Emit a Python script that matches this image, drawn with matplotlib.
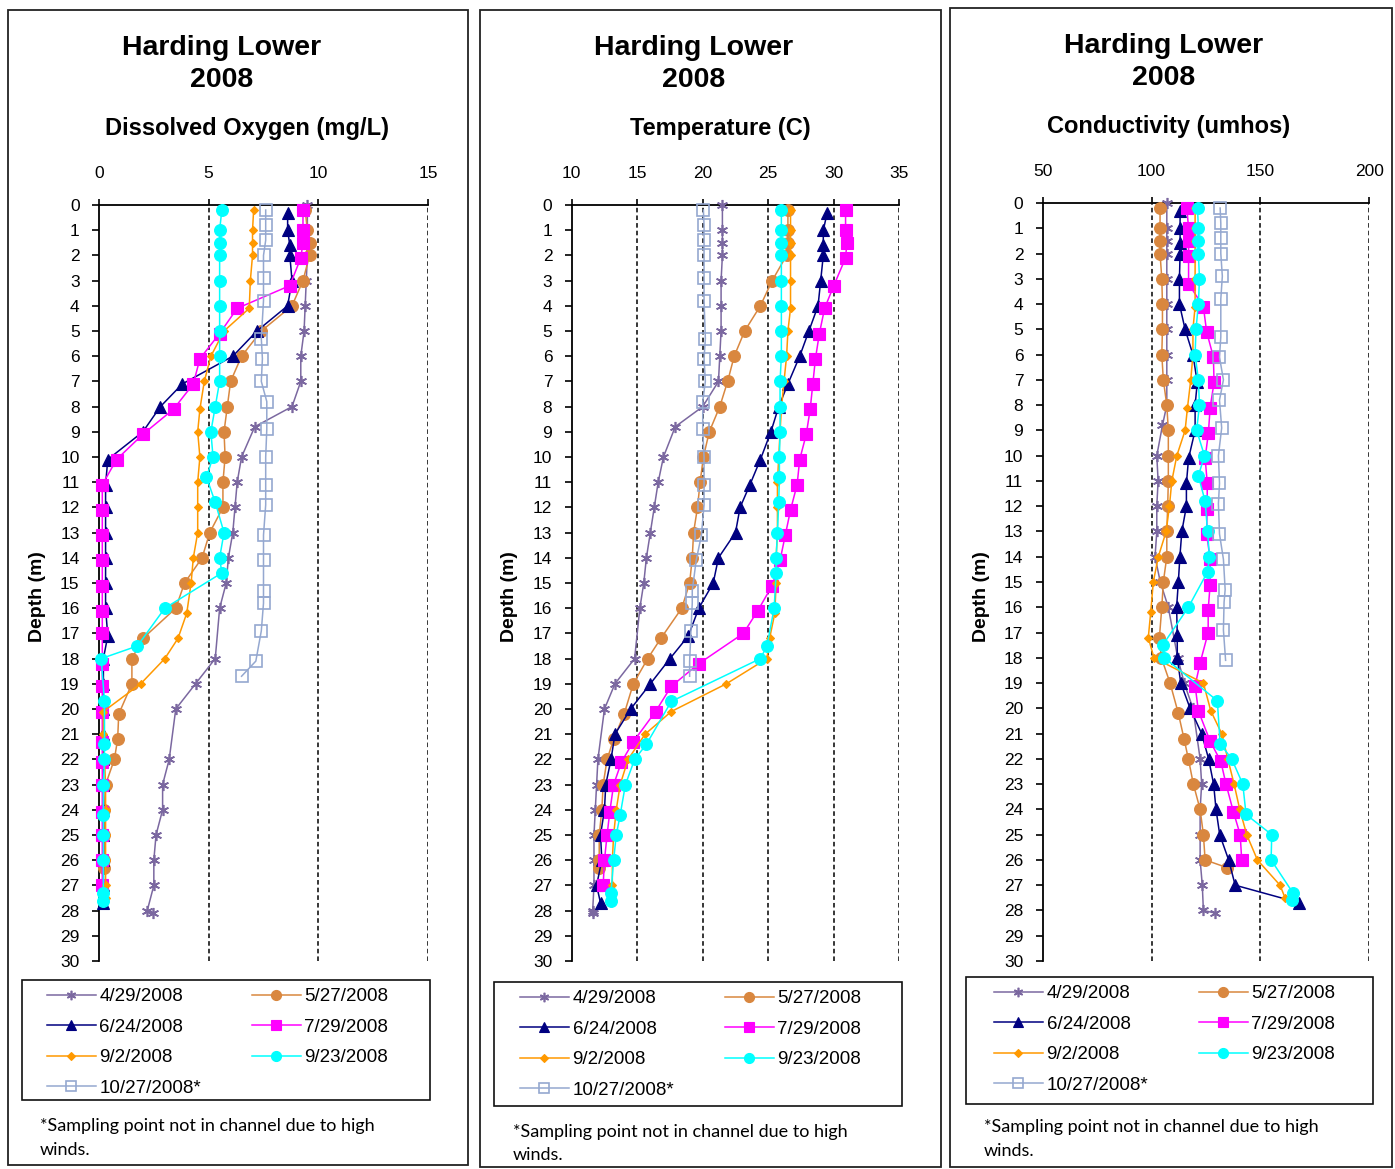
import numpy as np
import matplotlib.pyplot as plt
from matplotlib.patches import Rectangle

nan = np.nan

# sampling dates (legend labels)
dates = ['4/29/2008', '5/27/2008', '6/24/2008', '7/29/2008',
         '9/2/2008', '9/23/2008', '10/27/2008*']

# depths (m) for each sampling date
depth_0429 = [0, 1, 1.5, 2, 3, 4, 5, 6, 7, 8, 8.8, 10, 11, 12, 13, 14, 15, 16, 18, 19,
              20, 22, 23, 24, 25, 26, 27, 28, 28.1]
depth_0527 = [0.2, 1, 1.5, 2, 3, 4, 5, 6, 7, 8, 9, 10, 11, 12, 13, 14, 15, 16, 17.2, 18,
              19, 20.2, 21.2, 22, 23, 24, 25, 26, 26.3]
depth_0624 = [0.3, 1, 1.6, 2, 3, 4, 5, 6, 7.1, 8, 9, 10.1, 11.1, 12, 13, 14, 15, 16, 17.1, 18,
              19, 20, 21, 22, 23, 24, 25, 26, 27, 27.7]
depth_0729 = [0.2, 1, 1.5, 2.1, 3.2, 4.1, 5.1, 6.1, 7.1, 8.1, 9.1, 10.1, 11.1, 12.1, 13.1,
              14.1, 15.1, 16.1, 17, 18.2, 19.1, 20.1, 21.3, 22.1, 23, 24.1, 25, 26, 27]
depth_0902 = [0.2, 1, 1.5, 2, 3, 4.1, 5, 6, 7, 8.1, 9, 10, 11, 12, 13, 14, 15, 16.2, 17.2, 18,
              19, 20.1, 21, 22, 23, 24, 25, 26, 27, 27.5]
depth_0923 = [0.2, 1, 1.5, 2, 3, 4, 5, 6, 7, 8, 9, 10, 10.8, 11.8, 13, 14, 14.6, 16, 17.5, 18,
              19.7, 21.4, 22, 23, 24.2, 25, 26, 27.3, 27.6]
depth_1027 = [0.2, 0.8, 1.4, 2, 2.9, 3.8, 5.3, 6.1, 7, 7.8, 8.9, 10, 11.1, 11.9, 13.1, 14.1,
              15.3, 15.8, 16.9, 18.1, 18.7]

# dissolved oxygen (mg/L)
do_0429 = [9.5, 9.5, 9.5, 9.5, 9.45, 9.4, 9.35, 9.2, 9.2, 8.8, 7.1, 6.5, 6.3, 6.2, 6.1, 5.9,
           5.8, 5.5, 5.3, 4.4, 3.5, 3.2, 2.9, 2.9, 2.6, 2.5, 2.5, 2.2, 2.45]
do_0527 = [9.4, 9.5, 9.6, 9.6, 9.3, 8.8, 7.4, 6.5, 6.0, 5.85, 5.7, 5.75, 5.65, 5.65, 5.05, 4.7,
           3.9, 3.5, 2.0, 1.5, 1.5, 0.9, 0.85, 0.7, 0.3, 0.25, 0.25, 0.25, 0.25]
do_0624 = [8.6, 8.6, 8.7, 8.7, 8.8, 8.6, 7.2, 6.1, 3.8, 2.8, 2.0, 0.4, 0.3, 0.3, 0.3, 0.3,
           0.3, 0.3, 0.4, 0.2, 0.2, 0.2, 0.2, 0.2, 0.2, 0.2, 0.2, 0.2, 0.2, 0.2]
do_0729 = [9.3, 9.3, 9.3, 9.2, 8.7, 6.3, 5.5, 4.6, 4.3, 3.4, 2.0, 0.8, 0.15, 0.15, 0.15, 0.15,
           0.15, 0.15, 0.15, 0.15, 0.15, 0.15, 0.15, 0.15, 0.15, 0.15, 0.15, 0.15, 0.15]
do_0902 = [7.05, 7.0, 7.0, 7.0, 6.9, 6.85, 5.7, 5.1, 4.8, 4.6, 4.5, 4.6, 4.5, 4.5, 4.5, 4.3,
           4.2, 4.0, 3.6, 3.0, 1.9, 0.2, 0.2, 0.25, 0.3, 0.3, 0.3, 0.3, 0.3, 0.3]
do_0923 = [5.6, 5.5, 5.5, 5.5, 5.5, 5.5, 5.5, 5.5, 5.5, 5.3, 5.1, 5.2, 4.9, 5.3, 5.7, 5.5,
           5.6, 3.0, 1.75, 0.1, 0.25, 0.25, 0.25, 0.2, 0.2, 0.2, 0.2, 0.2, 0.2]
do_1027 = [7.6, 7.6, 7.6, 7.5, 7.5, 7.5, 7.4, 7.45, 7.4, 7.65, 7.65, 7.6, 7.6, 7.6, 7.5, 7.5,
           7.5, 7.5, 7.4, 7.15, 6.5]

# temperature (C)
temp_0429 = [21.5, 21.5, 21.5, 21.5, 21.4, 21.4, 21.4, 21.3, 21.2, 20.0, 17.9, 17.0, 16.6,
             16.3, 16.0, 15.7, 15.5, 15.2, 14.8, 13.3, 12.5, 12.0, 11.9, 11.8, 11.7, 11.7,
             11.7, 11.6, 11.6]
temp_0527 = [26.5, 26.5, 26.5, 26.4, 25.3, 24.4, 23.2, 22.4, 21.9, 21.3, 20.5, 20.05, 19.8,
             19.6, 19.3, 19.2, 19.0, 18.4, 16.8, 15.8, 14.7, 14.0, 13.2, 12.7, 12.4, 12.3,
             12.1, 12.1, 12.1]
temp_0624 = [29.5, 29.2, 29.2, 29.2, 29.0, 28.8, 28.1, 27.4, 26.5, 25.8, 25.2, 24.4, 23.6,
             22.85, 22.5, 21.2, 20.8, 19.7, 18.9, 17.5, 16.0, 14.5, 13.3, 13.0, 12.6, 12.5,
             12.2, 12.3, 11.9, 12.2]
temp_0729 = [30.9, 30.9, 31.0, 30.9, 30.0, 29.3, 28.9, 28.6, 28.4, 28.2, 27.9, 27.4, 27.2,
             26.7, 26.3, 25.9, 25.3, 24.2, 23.1, 19.7, 17.6, 16.4, 14.7, 13.8, 13.2, 12.9,
             12.7, 12.5, 12.4]
temp_0902 = [26.7, 26.7, 26.7, 26.7, 26.7, 26.7, 26.5, 26.4, 26.2, 26.0, 25.9, 25.8, 25.7,
             25.7, 25.7, 25.6, 25.6, 25.5, 25.1, 24.9, 21.8, 17.6, 15.6, 14.3, 13.7, 13.4,
             13.2, 13.1, 13.1, 13.1]
temp_0923 = [26.0, 26.0, 26.0, 26.0, 26.0, 26.0, 26.0, 26.0, 25.9, 25.9, 25.9, 25.85, 25.85,
             25.8, 25.7, 25.6, 25.6, 25.45, 24.9, 24.4, 17.6, 15.7, 14.8, 14.1, 13.7, 13.4,
             13.2, 13.0, 13.0]
temp_1027 = [20.05, 20.1, 20.1, 20.1, 20.1, 20.1, 20.2, 20.1, 20.2, 20.0, 20.0, 20.1, 20.1,
             20.1, 19.9, 19.5, 19.2, 19.2, 19.1, 19.0, 19.0]

# conductivity (umhos)
cond_0429 = [107, 107, 107, 107, 107, 107, 107, 107, 107, 107, 105, 102.4, 103, 102.4, 102.4,
             101.6, 104, 107.7, 112, 115, 119, 122.3, 123, 122.3, 122.3, 122.3, 123.3, 123.8, 129]
cond_0527 = [103.9, 103.9, 103.9, 103.9, 104.7, 105, 105, 104.7, 105.4, 107, 107.7, 107.7,
             107.7, 107.4, 107, 107, 105.4, 104.7, 103.6, 104.5, 108.5, 112.3, 114.9, 116.9,
             119.2, 122.3, 123.8, 124.6, 134.5]
cond_0624 = [113.1, 113.1, 113.1, 113.1, 112.8, 112.8, 115.4, 119, 121, 120, 120, 117, 116,
             116, 113.9, 113, 112.3, 111.5, 111.8, 111.8, 113.4, 117.7, 123, 126.2, 128.5,
             129.6, 131.3, 135.4, 138.4, 167.9]
cond_0729 = [116.2, 117, 117, 117, 117, 123.8, 125.3, 128.4, 128.7, 126.9, 126.1, 124.6, 125.6,
             125.5, 125.3, 126.9, 126.9, 126, 126, 122.3, 120, 121.5, 126.9, 131.8, 134.2,
             137.6, 140.7, 141.4, nan]
cond_0902 = [120, 120, 120, 120, 120, 120, 119, 119, 118, 116.5, 115.4, 111.6, 109.3, 108.2,
             106.7, 103.1, 100.8, 99.6, 98.5, 101.1, 123.8, 127.2, 132.2, 135, 137.9, 140.5,
             143.7, 148.6, 159, 161.3]
cond_0923 = [121.1, 121.5, 121.5, 121.5, 122, 121.5, 120.4, 120, 121.5, 122, 120.7, 124.3,
             121.5, 124.6, 125.7, 126.6, 125.7, 116.9, 105.1, 105.9, 130.2, 131.5, 136.8,
             141.9, 143.4, 155.2, 154.9, 164.9, 164.5]
cond_1027 = [131.5, 131.8, 131.8, 131.8, 132.5, 131.8, 131.8, 131.2, 133, 131.2, 132.2, 130.7,
             131.2, 130.7, 131.2, 133, 133.8, 133.3, 133, 134, nan]

depths = [depth_0429, depth_0527, depth_0624, depth_0729, depth_0902, depth_0923, depth_1027]
do_all = [do_0429, do_0527, do_0624, do_0729, do_0902, do_0923, do_1027]
temp_all = [temp_0429, temp_0527, temp_0624, temp_0729, temp_0902, temp_0923, temp_1027]
cond_all = [cond_0429, cond_0527, cond_0624, cond_0729, cond_0902, cond_0923, cond_1027]

# series styles
colors = ['#7B68A0', '#D9873F', '#000080', '#FF00FF', '#FF9900', '#00FFFF', '#95A8D0']
markers = [(6, 2, 0), 'o', '^', 's', 'D', 'o', 's']
msizes = [8, 8.5, 8, 8.5, 4.5, 8.5, 8]

W, H = 1395, 1169
plt.rcParams['font.family'] = ['Liberation Sans', 'DejaVu Sans']
fig = plt.figure(figsize=(W / 100, H / 100), dpi=100)


def fx(px):
    return px / W


def fy(py):
    return 1 - py / H


def frame(x0, y0, x1, y1, lw=1.3, color='#222222'):
    fig.patches.append(Rectangle((fx(x0), fy(y1)), fx(x1) - fx(x0), fy(y0) - fy(y1),
                                 transform=fig.transFigure, fill=False,
                                 edgecolor=color, lw=lw))


panels = [
    dict(data=do_all, box=(8, 10, 468, 1165), ax=(99, 205, 428, 961), xlim=(0, 15),
         xticks=[0, 5, 10, 15], sub='Dissolved Oxygen (mg/L)',
         t=(222, 48, 80), s=(247, 128), dl=38,
         leg=(22, 980, 430, 1100), lh=(47, 995), fn=(40, 1126, 1150)),
    dict(data=temp_all, box=(480, 10, 941, 1167), ax=(571.7, 205, 899.3, 961), xlim=(10, 35),
         xticks=[10, 15, 20, 25, 30, 35], sub='Temperature (C)',
         t=(694, 48, 80), s=(720, 128), dl=510,
         leg=(494, 982, 902, 1106), lh=(520, 997), fn=(513, 1132, 1155)),
    dict(data=cond_all, box=(950, 8, 1392, 1167), ax=(1042.7, 203, 1369.3, 961), xlim=(50, 200),
         xticks=[50, 100, 150, 200], sub='Conductivity (umhos)',
         t=(1164, 46, 78), s=(1169, 126), dl=981,
         leg=(966, 977, 1373, 1104), lh=(994, 992), fn=(984, 1127, 1151)),
]

order = [0, 2, 4, 6, 1, 3, 5]  # row-wise legend order in two columns

for p in panels:
    frame(*p['box'])
    x0, y0, x1, y1 = p['ax']
    ax = fig.add_axes([fx(x0), fy(y1), fx(x1) - fx(x0), fy(y0) - fy(y1)])
    handles = []
    for i in range(7):
        face = 'none' if i == 6 else colors[i]
        h, = ax.plot(p['data'][i], depths[i], color=colors[i], lw=1.1,
                     marker=markers[i], markersize=msizes[i], markerfacecolor=face,
                     markeredgecolor=colors[i], markeredgewidth=1.2 if i in (0, 6) else 0.8,
                     label=dates[i], clip_on=False, zorder=3 + i)
        handles.append(h)

    ax.set_xlim(*p['xlim'])
    ax.set_ylim(30, 0)
    ax.set_yticks(range(0, 31))
    ax.set_xticks(p['xticks'])
    ax.xaxis.tick_top()
    for xv in p['xticks'][1:]:
        ax.axvline(xv, color='black', lw=1.1, ls=(0, (3, 2)), zorder=1)
    for side in ['right', 'bottom']:
        ax.spines[side].set_visible(False)
    for side in ['top', 'left']:
        ax.spines[side].set_linewidth(1.3)
    ax.tick_params(axis='y', direction='out', length=5, width=1.2, labelsize=12.5, pad=9)
    ax.tick_params(axis='x', direction='out', length=4, width=1.2, labelsize=12.5, pad=13,
                   top=True, bottom=False)

    # titles
    tx, ty1, ty2 = p['t']
    fig.text(fx(tx), fy(ty1), 'Harding Lower', ha='center', va='center',
             fontsize=20.5, fontweight='bold')
    fig.text(fx(tx), fy(ty2), '2008', ha='center', va='center',
             fontsize=20.5, fontweight='bold')
    fig.text(fx(p['s'][0]), fy(p['s'][1]), p['sub'], ha='center', va='center',
             fontsize=17, fontweight='bold')
    fig.text(fx(p['dl']), fy(597), 'Depth (m)', ha='center', va='center',
             rotation=90, fontsize=14, fontweight='bold')

    # legend
    frame(*p['leg'], lw=1.2, color='#111111')
    lx, ly = p['lh']
    fig.legend([handles[k] for k in order], [dates[k] for k in order],
               loc='upper left', bbox_to_anchor=(fx(lx), fy(ly - 7)),
               ncol=2, frameon=False, fontsize=13.5, borderpad=0, borderaxespad=0,
               handlelength=2.6, handletextpad=0.2, labelspacing=0.72,
               columnspacing=2.7, markerscale=0.85)

    # footnote
    fnx, fny1, fny2 = p['fn']
    fig.text(fx(fnx), fy(fny1), '*Sampling point not in channel due to high',
             ha='left', va='center', fontsize=13, family=['Lato', 'DejaVu Sans'])
    fig.text(fx(fnx), fy(fny2), 'winds.', ha='left', va='center',
             fontsize=13, family=['Lato', 'DejaVu Sans'])

fig.savefig('out.png', dpi=100)
